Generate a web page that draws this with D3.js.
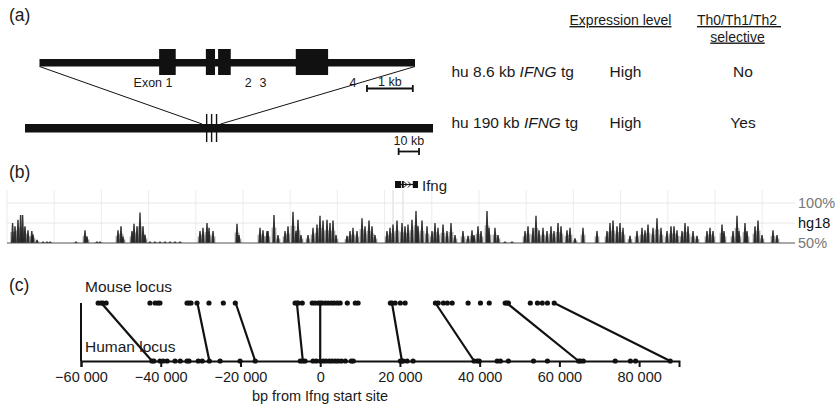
<!DOCTYPE html>
<meta charset="utf-8">
<script src="https://cdn.jsdelivr.net/npm/d3@7"></script>
<style>
    body { margin: 0; background: #fff; }
    text { font-family: "Liberation Sans", Arial, sans-serif; fill: #1a1a1a; }
</style>
<body>
<script>
// ---- panel (a): transgene structure ----
var geneLengthKb = 8.6;
var locusLengthKb = 190;
var exons = [[2.74, 3.12], [3.81, 4.02], [4.09, 4.38], [5.87, 6.61]];
var exonLabels = ["Exon 1", "2", "3", "4"];
var exonLabelKb = [2.6, 4.78, 5.12, 7.18];
var transgeneOnLocus = [82.5, 91.1];
var exonMarksOnLocus = [84.6, 86.9, 89.2];
var constructs = ["hu 8.6 kb ", "hu 190 kb "];
var expression = ["High", "High"];
var selective = ["No", "Yes"];

// ---- panel (b): conservation track, [position kb, identity %] ----
var peaks = [[1.4,75],[2.0,71],[2.75,79],[3.4,85],[3.9,85],[4.5,71],[5.25,66],[6.2,65],[6.5,61],[7.5,54],
  [9,52],[10,52],[10.75,52],[17.25,52],[19.5,66],[20,58],[22.5,52],[23.25,52],[27.75,66],[28.5,71],
  [29,58],[31.25,65],[31.75,74],[32.5,71],[33.25,88],[34,71],[34.5,60],[35.75,52],[37,52],[38.25,52],
  [39.5,52],[40.75,52],[42,52],[43.25,52],[48.25,65],[49,69],[50,75],[50.5,69],[51.5,65],[57.5,74],
  [58,60],[63.25,69],[64,66],[65,65],[65.25,65],[66.75,85],[67.75,60],[69.5,65],[70.25,71],[71.5,89],
  [72.25,65],[72.75,79],[73.5,60],[75.25,60],[76.5,69],[77.5,73],[78.25,84],[79,78],[80,79],[80.75,75],
  [81.5,78],[82.25,60],[85,59],[85.75,65],[86.5,69],[87.5,65],[88.75,81],[89.5,71],[90.5,78],[91.25,71],
  [92,60],[95,65],[95.75,69],[96.5,73],[97.5,78],[98.75,75],[99.5,71],[100.25,73],[101.25,79],[102.25,90],
  [102.75,71],[103.75,78],[105,71],[106.25,65],[107,75],[107.75,69],[109,73],[110,65],[111,75],[112,60],
  [114,65],[115.25,59],[116.25,66],[116.75,60],[117.75,71],[118.5,65],[120,90],[120.5,69],[122,69],[122.75,60],
  [124.5,52],[126.25,52],[129.5,65],[130.25,71],[131.5,69],[132.25,84],[133,66],[134,69],[135,65],[136,71],
  [136.75,65],[137.75,75],[138.5,71],[140,66],[140.75,69],[142,56],[144,69],[147.5,65],[150,65],[150.75,75],
  [151.5,78],[152.5,71],[153.25,75],[154,69],[155.75,59],[157.5,65],[158.75,69],[159.5,66],[160.25,73],[161.5,69],
  [162.5,81],[163.5,69],[165,65],[166,71],[166.75,71],[167.5,66],[168.75,65],[169.5,75],[170.25,71],[171.5,65],
  [172.5,59],[175,65],[175.75,69],[176.5,65],[178.75,73],[179.25,65],[181.5,65],[182.5,84],[183,65],[184.5,75],
  [185,65],[187,71],[187.75,78],[188.75,60],[191.5,66],[192.5,60]];
var trackLengthKb = 197;
var ifngGene = [97, 102.75];
var ifngHighlight = [96.5, 99];
var trackLabels = ["100%", "hg18", "50%"];
var trackLabelPct = [100, 75, 50];

// ---- panel (c): orthologous positions, bp from Ifng start ----
var mouseSites = [-55700,-55000,-54500,-53700,-42700,-41400,-40700,-40200,-33400,-32900,-32400,-30900,
  -27900,-24300,-21300,-6300,-5850,-5500,-4500,-2000,-1300,-500,0,500,1300,2000,2800,3500,4300,5000,
  6800,8800,9500,17600,18000,18800,20100,21300,28900,29600,30900,31900,33100,37100,40200,42400,46400,
  46800,47200,52700,54500,55700,57000,58700];
var humanSites = [-42200,-41700,-40200,-39400,-38400,-36400,-35100,-33400,-32900,-30600,-29600,-27800,
  -25100,-20100,-16300,-5000,-4350,-3800,-1800,-1000,0,800,1500,2300,3000,3800,4500,5300,6300,7800,8300,
  20100,20500,20800,21800,23300,38600,39400,39900,44400,45200,47200,53500,57000,64800,65300,66000,74000,
  77800,79100,87800];
var orthologPairs = [[-54900,-42200],[-30800,-27800],[-21200,-16300],[-5850,-4350],[0,0],
  [18000,20500],[28900,38600],[46800,64800],[58700,87800]];
var bpTicks = [-60000,-40000,-20000,0,20000,40000,60000,80000];

var svg = d3.select("body").append("svg")
    .attr("width", 837)
    .attr("height", 406);

// panel letters
svg.selectAll(".panel")
    .data(["(a)", "(b)", "(c)"])
    .enter().append("text")
    .text(function(d) { return d; })
    .attr("x", 9)
    .attr("y", function(d, i) { return [21, 178, 291][i]; })
    .attr("font-size", "17.5px");

// ===== (a) =====
var gx = d3.scaleLinear().domain([0, geneLengthKb]).range([39.5, 415]);
var lx = d3.scaleLinear().domain([0, locusLengthKb]).range([25, 433]);

svg.append("rect")
    .attr("x", gx(0)).attr("y", 59)
    .attr("width", gx(geneLengthKb) - gx(0)).attr("height", 7.5)
    .style("fill", "#111");

svg.selectAll(".exon")
    .data(exons)
    .enter().append("rect")
    .attr("x", function(d) { return gx(d[0]); })
    .attr("width", function(d) { return gx(d[1]) - gx(d[0]); })
    .attr("y", 49).attr("height", 26)
    .style("fill", "#111");

svg.selectAll(".exonlab")
    .data(exonLabels)
    .enter().append("text")
    .text(function(d) { return d; })
    .attr("x", function(d, i) { return gx(exonLabelKb[i]); })
    .attr("y", 87)
    .attr("text-anchor", "middle")
    .attr("font-size", "12.5px");

// zoom lines from gene to locus
svg.selectAll(".zoomline")
    .data([[0, transgeneOnLocus[0]], [geneLengthKb, transgeneOnLocus[1]]])
    .enter().append("line")
    .attr("x1", function(d) { return gx(d[0]); })
    .attr("y1", 66.5)
    .attr("x2", function(d) { return lx(d[1]); })
    .attr("y2", 124)
    .style("stroke", "#111").style("stroke-width", 1);

svg.append("rect")
    .attr("x", lx(0)).attr("y", 124)
    .attr("width", lx(locusLengthKb) - lx(0)).attr("height", 8.5)
    .style("fill", "#111");

svg.selectAll(".exonmark")
    .data(exonMarksOnLocus)
    .enter().append("line")
    .attr("x1", function(d) { return lx(d); })
    .attr("x2", function(d) { return lx(d); })
    .attr("y1", 114).attr("y2", 142)
    .style("stroke", "#111").style("stroke-width", 1.4);

// scale bars
function scaleBar(x0, x1, y, label, ly) {
    svg.append("line").attr("x1", x0).attr("x2", x1).attr("y1", y).attr("y2", y)
        .style("stroke", "#111").style("stroke-width", 1.8);
    svg.selectAll(null).data([x0, x1]).enter().append("line")
        .attr("x1", function(d) { return d; }).attr("x2", function(d) { return d; })
        .attr("y1", y - 3.5).attr("y2", y + 3.5)
        .style("stroke", "#111").style("stroke-width", 1.8);
    svg.append("text").text(label)
        .attr("x", (x0 + x1) / 2).attr("y", ly)
        .attr("text-anchor", "middle").attr("font-size", "12.5px");
}
scaleBar(gx(7.5), gx(8.55), 88.5, "1 kb", 86);
scaleBar(lx(174), lx(183.5), 151.5, "10 kb", 144.5);

// table
svg.selectAll(".colhead")
    .data(["Expression level", "Th0/Th1/Th2\u00a0", "selective"])
    .enter().append("text")
    .text(function(d) { return d; })
    .attr("x", function(d, i) { return [620.5, 739, 737.5][i]; })
    .attr("y", function(d, i) { return [25, 25, 41.5][i]; })
    .attr("text-anchor", "middle")
    .attr("text-decoration", "underline")
    .attr("font-size", "14px");

var rowY = [77, 128];
var cons = svg.selectAll(".construct")
    .data(constructs)
    .enter().append("text")
    .attr("x", 451.5)
    .attr("y", function(d, i) { return rowY[i]; })
    .attr("font-size", "15.5px");
cons.append("tspan").text(function(d) { return d; });
cons.append("tspan").text("IFNG").style("font-style", "italic");
cons.append("tspan").text(" tg");

svg.selectAll(".expr")
    .data(expression)
    .enter().append("text")
    .text(function(d) { return d; })
    .attr("x", 625.5).attr("y", function(d, i) { return rowY[i]; })
    .attr("text-anchor", "middle").attr("font-size", "15.5px");

svg.selectAll(".sel")
    .data(selective)
    .enter().append("text")
    .text(function(d) { return d; })
    .attr("x", 743).attr("y", function(d, i) { return rowY[i]; })
    .attr("text-anchor", "middle").attr("font-size", "15.5px");

// ===== (b) =====
var tx = d3.scaleLinear().domain([0, trackLengthKb]).range([7, 795]);
var ty = d3.scaleLinear().domain([50, 100]).range([243, 203]);

svg.selectAll(".vgrid")
    .data(d3.range(0, trackLengthKb, 11.8))
    .enter().append("line")
    .attr("x1", function(d) { return tx(d); }).attr("x2", function(d) { return tx(d); })
    .attr("y1", 190).attr("y2", 243)
    .style("stroke", "#ececec");

svg.selectAll(".hl")
    .data(ifngHighlight)
    .enter().append("line")
    .attr("x1", function(d) { return tx(d); }).attr("x2", function(d) { return tx(d); })
    .attr("y1", 190).attr("y2", 243)
    .style("stroke", "#d8d8d8");

svg.selectAll(".hgrid")
    .data([100, 75])
    .enter().append("line")
    .attr("x1", tx(0)).attr("x2", tx(trackLengthKb))
    .attr("y1", function(d) { return ty(d); }).attr("y2", function(d) { return ty(d); })
    .style("stroke", "#e6e6e6");

// light fill under peaks
svg.selectAll(".pfill")
    .data(peaks)
    .enter().append("rect")
    .attr("x", function(d) { return tx(d[0]) - 2.5; })
    .attr("width", 5)
    .attr("y", function(d) { return ty(50 + (d[1] - 50) * 0.55); })
    .attr("height", function(d) { return ty(50) - ty(50 + (d[1] - 50) * 0.55); })
    .style("fill", "#bdbdbd");

var spike = d3.line();
svg.selectAll(".peak")
    .data(peaks)
    .enter().append("path")
    .attr("d", function(d) {
        var x = tx(d[0]);
        return spike([[x - 1.6, ty(50)], [x - 0.7, ty(d[1])], [x + 0.7, ty(d[1])], [x + 1.6, ty(50)]]) + "Z";
    })
    .style("fill", "#1e1e1e")
    .style("opacity", 0.9);

svg.append("line")
    .attr("x1", tx(0)).attr("x2", tx(trackLengthKb))
    .attr("y1", ty(50)).attr("y2", ty(50))
    .style("stroke", "#555").style("stroke-width", 1.2);

// Ifng gene glyph
var gy = 184.5;
svg.append("line")
    .attr("x1", tx(ifngGene[0])).attr("x2", tx(ifngGene[1]))
    .attr("y1", gy).attr("y2", gy)
    .style("stroke", "#111").style("stroke-width", 1.2);
svg.selectAll(".gblock")
    .data([[ifngGene[0], ifngGene[0] + 1.5], [ifngGene[1] - 1.3, ifngGene[1]]])
    .enter().append("rect")
    .attr("x", function(d) { return tx(d[0]); })
    .attr("width", function(d) { return tx(d[1]) - tx(d[0]); })
    .attr("y", gy - 3.5).attr("height", 7)
    .style("fill", "#111");
svg.append("rect")
    .attr("x", tx(ifngGene[0] + 1.7)).attr("width", 2)
    .attr("y", gy - 3.5).attr("height", 7).style("fill", "#111");
svg.selectAll(".chev")
    .data([ifngGene[0] + 2.6, ifngGene[0] + 3.6])
    .enter().append("path")
    .attr("d", function(d) { var x = tx(d); return "M" + (x - 1.5) + "," + (gy - 3) + "L" + (x + 1.5) + "," + gy + "L" + (x - 1.5) + "," + (gy + 3); })
    .style("fill", "none").style("stroke", "#111").style("stroke-width", 1);
svg.append("text").text("Ifng")
    .attr("x", tx(ifngGene[1]) + 4).attr("y", 190.5)
    .attr("font-size", "15px");

svg.selectAll(".tracklab")
    .data(trackLabels)
    .enter().append("text")
    .text(function(d) { return d; })
    .attr("x", 798)
    .attr("y", function(d, i) { return ty(trackLabelPct[i]) + 5; })
    .attr("font-size", "14.5px")
    .style("fill", function(d, i) { return i == 1 ? "#111" : "#777"; });

// ===== (c) =====
var x = d3.scaleLinear().domain([-60000, 90000]).range([81, 679]);
var mouseY = 303, humanY = 361;
var locale = d3.formatLocale({decimal: ".", thousands: " ", grouping: [3], currency: ["", ""], minus: "\u2212"});
var fmt = locale.format(",");

svg.append("line")
    .attr("x1", x(-60000)).attr("x2", x(-60000))
    .attr("y1", mouseY).attr("y2", humanY)
    .style("stroke", "#111").style("stroke-width", 2);

var axis = svg.append("g")
    .attr("transform", "translate(0," + humanY + ")")
    .call(d3.axisBottom(x).tickValues(bpTicks).tickFormat(fmt).tickSizeOuter(0).tickSize(6).tickPadding(5));
axis.select(".domain").style("stroke", "#111").style("stroke-width", 2);
axis.selectAll(".tick line").style("stroke", "#111").style("stroke-width", 2);
axis.selectAll(".tick text")
    .style("font-family", "'Liberation Sans', Arial, sans-serif")
    .style("font-size", "14.5px")
    .style("fill", "#1a1a1a");

svg.selectAll(".pair")
    .data(orthologPairs)
    .enter().append("line")
    .attr("x1", function(d) { return x(d[0]); }).attr("y1", mouseY)
    .attr("x2", function(d) { return x(d[1]); }).attr("y2", humanY)
    .style("stroke", "#111").style("stroke-width", 2.2);

svg.selectAll(".mdot")
    .data(mouseSites)
    .enter().append("circle")
    .attr("cx", function(d) { return x(d); }).attr("cy", mouseY)
    .attr("r", 2.6).style("fill", "#111");

svg.selectAll(".hdot")
    .data(humanSites)
    .enter().append("circle")
    .attr("cx", function(d) { return x(d); }).attr("cy", humanY)
    .attr("r", 2.6).style("fill", "#111");

svg.append("text").text("Mouse locus")
    .attr("x", 85).attr("y", 292).attr("font-size", "15.5px");
svg.append("text").text("Human locus")
    .attr("x", 85).attr("y", 352).attr("font-size", "15.5px");
svg.append("text").text("bp from Ifng start site")
    .attr("x", 320).attr("y", 401)
    .attr("text-anchor", "middle").attr("font-size", "14.5px");
</script>
</body>
